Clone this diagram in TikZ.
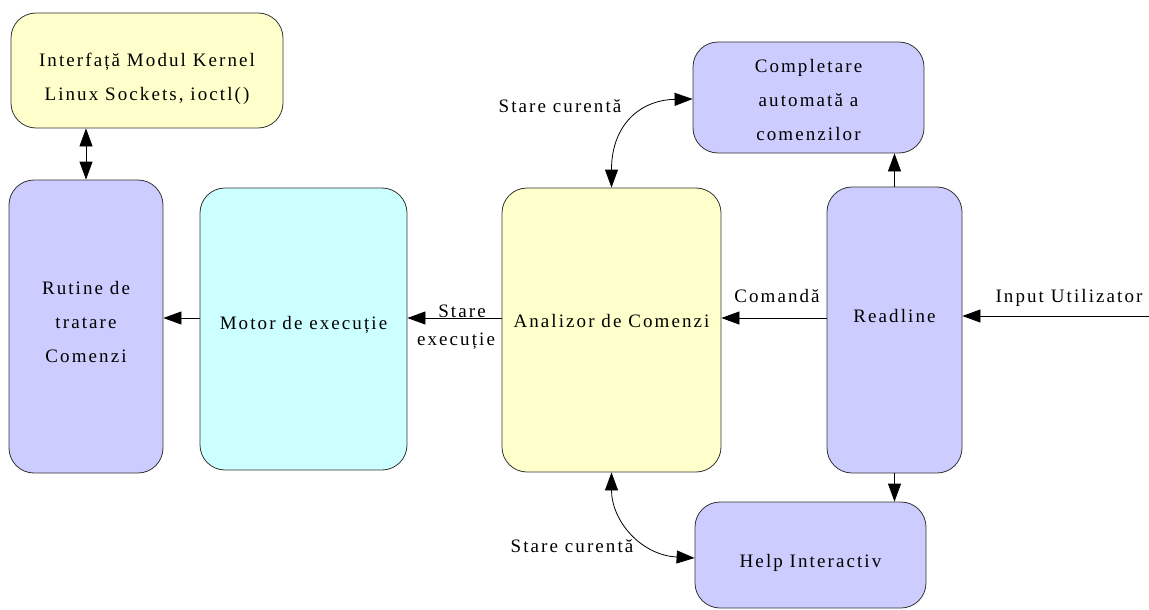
\documentclass[tikz,border=0pt]{standalone}
\usepackage{fontspec}
\setmainfont{Liberation Serif}[LetterSpace=11]
\usetikzlibrary{arrows.meta}
\definecolor{paleyellow}{HTML}{FFFFCC}
\definecolor{lavender}{HTML}{CCCCFF}
\definecolor{palecyan}{HTML}{CCFFFF}
\definecolor{edgegray}{HTML}{333333}
\tikzset{
  block/.style={draw=edgegray, line width=0.8pt, rounded corners=25pt, inner sep=0pt},
  boxtext/.style={align=center, inner sep=0pt, font=\fontsize{19}{34}\selectfont, yshift=-2.5pt},
  oneline/.style={boxtext, text height=13pt, text depth=4pt},
  lbl/.style={inner sep=0pt, font=\fontsize{19}{34}\selectfont, text height=13pt, text depth=4pt, yshift=-2.5pt},
  arr/.style={line width=0.8pt, -{Triangle[length=18pt,width=13pt]}},
  darr/.style={line width=0.8pt, {Triangle[length=18pt,width=13pt]}-{Triangle[length=18pt,width=13pt]}},
}
\begin{document}
\begin{tikzpicture}[x=1pt,y=-1pt]
\useasboundingbox (0,0) rectangle (1149,610);

% blocks, each with its caption placed as a centred label
\node[block, fill=paleyellow, minimum width=272pt, minimum height=115pt,
  label={[boxtext, yshift=-6pt]center:{Interfață Modul Kernel\\Linux Sockets, ioctl()}}]
  (ik) at (147,70.5) {};
\node[block, fill=lavender, minimum width=154pt, minimum height=293pt,
  label={[boxtext, yshift=7.5pt]center:{Rutine de\\tratare\\Comenzi}}]
  (ru) at (86,326.5) {};
\node[block, fill=palecyan, minimum width=207pt, minimum height=282pt,
  label={[oneline, yshift=7pt]center:{Motor de execuție}}]
  (mo) at (303.5,329) {};
\node[block, fill=paleyellow, minimum width=219pt, minimum height=284pt,
  label={[oneline, yshift=10pt]center:{Analizor de Comenzi}}]
  (an) at (611.5,330) {};
\node[block, fill=lavender, minimum width=135pt, minimum height=286pt,
  label={[oneline, yshift=15pt]center:{Readline}}]
  (rl) at (894.5,330) {};
\node[block, fill=lavender, minimum width=231pt, minimum height=111pt,
  label={[boxtext]center:{Completare\\automată a\\comenzilor}}]
  (co) at (808.5,97.5) {};
\node[block, fill=lavender, minimum width=231pt, minimum height=106pt,
  label={[oneline, yshift=-5pt]center:{Help Interactiv}}]
  (he) at (810.5,555) {};

% reference levels for horizontal connectors
\coordinate (mid) at (0,318);
\coordinate (inp) at (1149,316);
\coordinate (cotip) at (0,99);
\coordinate (hetip) at (0,558);

% connectors
\draw[darr] (ik.south -| ru.north) -- (ru.north);
\draw[arr] (mo.west |- mid) -- (ru.east |- mid);
\draw[arr] (an.west |- mid) -- (mo.east |- mid);
\draw[arr] (rl.west |- mid) -- (an.east |- mid);
\draw[arr] (inp) -- (rl.east |- inp);
\draw[arr] (rl.north) -- (co.south -| rl.north);
\draw[arr] (rl.south) -- (he.north -| rl.south);
\draw[darr] (an.north) .. controls (611.5,125) and (640,100) .. (co.west |- cotip);
\draw[darr] (an.south) .. controls (611.5,520) and (640,555) .. (he.west |- hetip);

% connector labels
\node[lbl] (l1) at (560,105) {Stare curentă};
\node[lbl] (l2) at (572,545) {Stare curentă};
\node[lbl] (l3) at (462,310) {Stare};
\node[lbl] (l4) at (456,338) {execuție};
\node[lbl] (l5) at (777,295) {Comandă};
\node[lbl] (l6) at (1069,295) {Input Utilizator};
\end{tikzpicture}
\end{document}
